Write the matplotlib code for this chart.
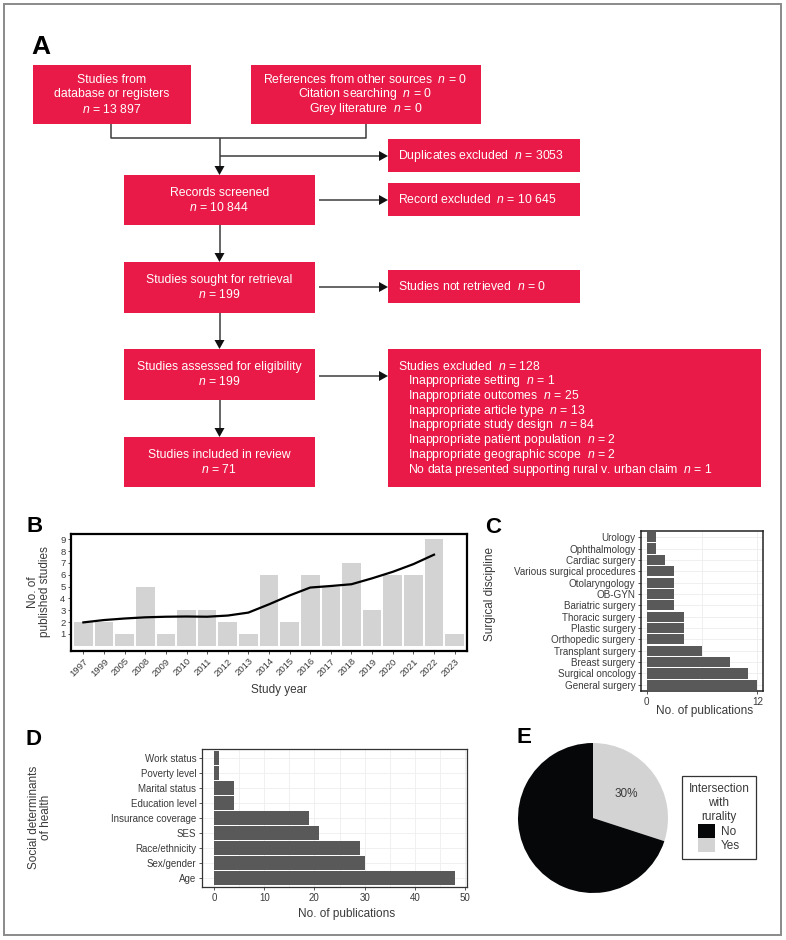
import matplotlib
matplotlib.use('Agg')
import matplotlib.pyplot as plt
from matplotlib.patches import Rectangle, Polygon, Patch
from matplotlib import font_manager as fm

W, H = 786, 940
_names = {f.name for f in fm.fontManager.ttflist}
PANEL_FONT = 'Liberation Sans' if 'Liberation Sans' in _names else 'DejaVu Sans'
if 'Liberation Sans Narrow' in _names:
    FLOW_FONT, FLOW_SIZE = 'Liberation Sans Narrow', 9.2
else:
    FLOW_FONT, FLOW_SIZE = PANEL_FONT, 8.8

plt.rcParams['font.family'] = [PANEL_FONT, 'DejaVu Sans']
plt.rcParams['mathtext.fontset'] = 'custom'
plt.rcParams['mathtext.rm'] = FLOW_FONT
plt.rcParams['mathtext.it'] = FLOW_FONT + ':italic'

# ---------------- data ----------------
n_database = "13 897"
n_other_sources = 0
n_citation = 0
n_grey = 0
n_duplicates = 3053
n_screened = "10 844"
n_record_excluded = "10 645"
n_sought = 199
n_not_retrieved = 0
n_assessed = 199
n_excluded = 128
exclusion_reasons = ["Inappropriate setting", "Inappropriate outcomes",
                     "Inappropriate article type", "Inappropriate study design",
                     "Inappropriate patient population", "Inappropriate geographic scope",
                     "No data presented supporting rural v. urban claim"]
exclusion_counts = [1, 25, 13, 84, 2, 2, 1]
n_included = 71

years = ['1997', '1999', '2005', '2008', '2009', '2010', '2011', '2012', '2013', '2014',
         '2015', '2016', '2017', '2018', '2019', '2020', '2021', '2022', '2023']
studies = [2, 2, 1, 5, 1, 3, 3, 2, 1, 6, 2, 6, 5, 7, 3, 6, 6, 9, 1]
trend_years = years[:18]
trend = [1.97, 2.17, 2.3, 2.4, 2.45, 2.47, 2.45, 2.55, 2.8, 3.5, 4.25, 4.92,
         5.05, 5.2, 5.7, 6.25, 6.9, 7.7]

disciplines = ['Urology', 'Ophthalmology', 'Cardiac surgery', 'Various surgical procedures',
               'Otolaryngology', 'OB-GYN', 'Bariatric surgery', 'Thoracic surgery',
               'Plastic surgery', 'Orthopedic surgery', 'Transplant surgery',
               'Breast surgery', 'Surgical oncology', 'General surgery']
discipline_counts = [1, 1, 2, 3, 3, 3, 3, 4, 4, 4, 6, 9, 11, 12]

sdoh = ['Work status', 'Poverty level', 'Marital status', 'Education level',
        'Insurance coverage', 'SES', 'Race/ethnicity', 'Sex/gender', 'Age']
sdoh_counts = [1, 1, 4, 4, 19, 21, 29, 30, 48]

rurality_labels = ['Yes', 'No']
rurality_share = [30, 70]

# ---------------- figure ----------------
RED = '#E91A47'
LC = '#3c3c3c'
TXT = '#3a3a3a'
fig = plt.figure(figsize=(W / 100, H / 100), dpi=100)


def fr(x, y):
    return x / W, 1 - y / H


def rect(l, t, r, b):
    return [l / W, 1 - b / H, (r - l) / W, (b - t) / H]


ax0 = fig.add_axes([0, 0, 1, 1], zorder=0)
ax0.set_xlim(0, W)
ax0.set_ylim(H, 0)
ax0.axis('off')
ax0.add_patch(Rectangle((4, 4), 777, 931, fill=False, edgecolor='#8a8a8a', lw=1.4))

LS = 14.8


def box(l, t, r, b, lines, align='center', xtext=None, indent=None):
    ax0.add_patch(Rectangle((l, t), r - l, b - t, facecolor=RED, edgecolor='none'))
    n = len(lines)
    yc = (t + b) / 2
    for i, s in enumerate(lines):
        y = yc + (i - (n - 1) / 2) * LS
        if align == 'center':
            ax0.text((l + r) / 2, y, s, ha='center', va='center', color='white',
                     fontsize=FLOW_SIZE, family=FLOW_FONT)
        else:
            x = xtext if (indent is None or i == 0) else indent
            ax0.text(x, y, s, ha='left', va='center', color='white',
                     fontsize=FLOW_SIZE, family=FLOW_FONT)


def line(xs, ys):
    ax0.plot(xs, ys, color=LC, lw=1.1, solid_capstyle='butt')


def arrow(x0, y0, x1, y1):
    L, hw = 9, 5
    if x0 == x1:
        d = 1 if y1 > y0 else -1
        line([x0, x0], [y0, y1 - d * L])
        ax0.add_patch(Polygon([[x1, y1], [x1 - hw, y1 - d * L], [x1 + hw, y1 - d * L]],
                              closed=True, facecolor='#111', edgecolor='none'))
    else:
        d = 1 if x1 > x0 else -1
        line([x0, x1 - d * L], [y0, y0])
        ax0.add_patch(Polygon([[x1, y1], [x1 - d * L, y1 - hw], [x1 - d * L, y1 + hw]],
                              closed=True, facecolor='#111', edgecolor='none'))


# flowchart boxes
box(32.5, 65, 190.5, 124, ["Studies from", "database or registers", f"$n$ = {n_database}"])
box(250.5, 65, 480.5, 124, [f"References from other sources  $n$ = {n_other_sources}",
                             f"Citation searching  $n$ = {n_citation}",
                             f"Grey literature  $n$ = {n_grey}"])
box(388, 139, 579.5, 172, [f"Duplicates excluded  $n$ = {n_duplicates}"], align='left', xtext=397.5)
box(123.5, 175, 315, 225, ["Records screened", f"$n$ = {n_screened}"])
box(388, 183, 579.5, 216, [f"Record excluded  $n$ = {n_record_excluded}"], align='left', xtext=397.5)
box(123.5, 262, 315, 313, ["Studies sought for retrieval", f"$n$ = {n_sought}"])
box(388, 270, 579.5, 303, [f"Studies not retrieved  $n$ = {n_not_retrieved}"], align='left', xtext=397.5)
box(123.5, 349, 315, 400, ["Studies assessed for eligibility", f"$n$ = {n_assessed}"])
excl_lines = [f"Studies excluded  $n$ = {n_excluded}"] + \
    [f"{r}  $n$ = {c}" for r, c in zip(exclusion_reasons, exclusion_counts)]
box(388, 349, 761, 487, excl_lines, align='left', xtext=397.5, indent=408)
box(123.5, 437, 315, 487, ["Studies included in review", f"$n$ = {n_included}"])

# connectors
line([110.5, 110.5, 365.5, 365.5], [124, 138, 138, 124])
arrow(219.5, 138, 219.5, 175)
arrow(219.5, 156, 388, 156)
arrow(319, 200, 388, 200)
arrow(219.5, 225, 219.5, 262)
arrow(319, 287, 388, 287)
arrow(219.5, 313, 219.5, 349)
arrow(319, 376, 388, 376)
arrow(219.5, 400, 219.5, 437)

# panel letters
for lab, x, y, s in [('A', 31, 54, 19), ('B', 27, 532, 16), ('C', 485, 533, 16),
                     ('D', 26, 745, 16), ('E', 517, 743, 16)]:
    fig.text(*fr(x, y), lab, fontsize=s, fontweight='bold', ha='left', va='baseline',
             color='black')

# ---------------- panel B ----------------
axB = fig.add_axes(rect(71, 534, 467, 651))
xb = list(range(len(years)))
axB.bar(xb, studies, width=0.9, color='#D3D3D3', zorder=1)
axB.plot(list(range(len(trend_years))), trend, color='black', lw=1.6, zorder=2,
         solid_joinstyle='round')
axB.set_xlim(-0.6, len(years) - 0.4)
axB.set_ylim(-0.45, 9.45)
axB.set_yticks(range(1, 10))
axB.set_xticks(xb)
axB.set_xticklabels(years, rotation=45, ha='right', va='top', rotation_mode='anchor')
axB.tick_params(axis='both', labelsize=6.8, colors=TXT, length=2.5, width=0.6, pad=1.5)
for sp in axB.spines.values():
    sp.set_linewidth(1.6)
    sp.set_color('black')
fig.text(*fr(279, 690), 'Study year', fontsize=8.5, color=TXT, ha='center', va='center')
fig.text(*fr(39, 592), 'No. of\npublished studies', fontsize=8.5, color=TXT, ha='center',
         va='center', rotation=90, multialignment='center', linespacing=1.0)

# ---------------- panel C ----------------
axC = fig.add_axes(rect(641, 531, 763, 691))
yc = list(range(len(disciplines)))
axC.set_axisbelow(True)
axC.barh(yc, discipline_counts, height=0.9, color='#595959', zorder=2)
axC.set_yticks(yc)
axC.set_yticklabels(disciplines)
axC.set_ylim(len(disciplines) - 0.45, -0.55)
axC.set_xlim(-0.6, 12.6)
axC.set_xticks([0, 12])
axC.set_xticks([6], minor=True)
axC.grid(True, which='both', color='#EDEDED', lw=0.6)
axC.tick_params(axis='both', which='major', labelsize=7.1, colors=TXT, length=2.5,
                width=0.6, pad=1.5)
axC.tick_params(axis='x', which='minor', length=0)
for sp in axC.spines.values():
    sp.set_linewidth(1.1)
    sp.set_color('#222222')
fig.text(*fr(705, 711), 'No. of publications', fontsize=8.5, color=TXT, ha='center',
         va='center')
fig.text(*fr(490, 594), 'Surgical discipline', fontsize=8.5, color=TXT, ha='center',
         va='center', rotation=90)

# ---------------- panel D ----------------
axD = fig.add_axes(rect(202, 749, 467, 887))
yd = list(range(len(sdoh)))
axD.set_axisbelow(True)
axD.barh(yd, sdoh_counts, height=0.9, color='#595959', zorder=2)
axD.set_yticks(yd)
axD.set_yticklabels(sdoh)
axD.set_ylim(len(sdoh) - 0.4, -0.6)
axD.set_xlim(-2.4, 50.4)
axD.set_xticks(range(0, 51, 10))
axD.set_xticks(range(5, 50, 10), minor=True)
axD.grid(True, which='both', color='#EEEEEE', lw=0.6)
axD.tick_params(axis='both', which='major', labelsize=7, colors=TXT, length=2.5,
                width=0.6, pad=1.5)
axD.tick_params(axis='x', which='minor', length=0)
for sp in axD.spines.values():
    sp.set_linewidth(0.9)
    sp.set_color('#333333')
fig.text(*fr(347, 914), 'No. of publications', fontsize=8.5, color=TXT, ha='center',
         va='center')
fig.text(*fr(40, 817), 'Social determinants\nof health', fontsize=8.5, color=TXT,
         ha='center', va='center', rotation=90, multialignment='center', linespacing=1.0)

# ---------------- panel E ----------------
axE = fig.add_axes(rect(518, 743, 668, 893))
colors_E = {'Yes': '#D3D3D3', 'No': '#050708'}
wedges, texts, autotexts = axE.pie(
    rurality_share, colors=[colors_E[k] for k in rurality_labels], startangle=90,
    counterclock=False, radius=1,
    autopct=lambda p: f'{p:.0f}%' if p < 50 else '', pctdistance=0.55,
    textprops=dict(fontsize=8.5, color=TXT))
axE.set_xlim(-1, 1)
axE.set_ylim(-1, 1)
axE.set_aspect('equal')
axE.axis('off')

handles = [Patch(facecolor=colors_E['No'], edgecolor='none'),
           Patch(facecolor=colors_E['Yes'], edgecolor='none')]
leg = fig.legend(handles, ['No', 'Yes'], title='Intersection\nwith\nrurality',
                 loc='center', bbox_to_anchor=fr(719, 817.5), fontsize=8.5,
                 title_fontsize=8.5, frameon=True, fancybox=False, handlelength=1.4,
                 handleheight=1.4, labelspacing=0.05, handletextpad=0.5,
                 borderpad=0.55, edgecolor='black')
leg.get_frame().set_linewidth(0.9)
leg.get_title().set_multialignment('center')
leg.get_title().set_linespacing(1.25)
leg.get_title().set_color(TXT)
for t in leg.get_texts():
    t.set_color(TXT)

fig.savefig('out.png', dpi=100)
